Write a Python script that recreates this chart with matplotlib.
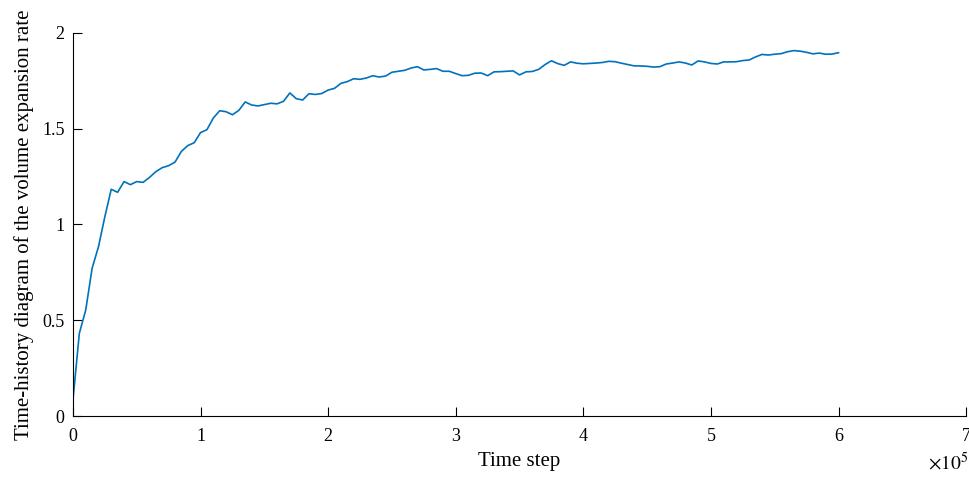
import numpy as np
import matplotlib
matplotlib.use('Agg')
import matplotlib.pyplot as plt
from matplotlib.ticker import FuncFormatter

# 体积膨胀率时程 (每 5000 步采样一次，读自原图)
step = 5000
rate = [
    0.085, 0.432, 0.553, 0.771, 0.884, 1.041, 1.184, 1.168, 1.224, 1.208,
    1.224, 1.220, 1.246, 1.276, 1.297, 1.307, 1.326, 1.382, 1.412, 1.427,
    1.480, 1.495, 1.556, 1.594, 1.589, 1.573, 1.596, 1.640, 1.624, 1.619,
    1.626, 1.633, 1.630, 1.643, 1.687, 1.657, 1.650, 1.683, 1.679, 1.684,
    1.702, 1.711, 1.737, 1.746, 1.761, 1.758, 1.765, 1.777, 1.770, 1.775,
    1.795, 1.800, 1.805, 1.817, 1.824, 1.807, 1.810, 1.814, 1.800, 1.800,
    1.788, 1.777, 1.779, 1.790, 1.791, 1.777, 1.797, 1.798, 1.800, 1.802,
    1.781, 1.797, 1.799, 1.810, 1.835, 1.855, 1.840, 1.831, 1.849, 1.842,
    1.839, 1.841, 1.843, 1.846, 1.852, 1.850, 1.842, 1.835, 1.828, 1.828,
    1.826, 1.822, 1.824, 1.838, 1.843, 1.849, 1.843, 1.833, 1.854, 1.849,
    1.841, 1.838, 1.849, 1.849, 1.850, 1.856, 1.859, 1.875, 1.888, 1.885,
    1.889, 1.892, 1.902, 1.908, 1.905, 1.899, 1.891, 1.895, 1.889, 1.890,
    1.897,
]
time_step = [i * step for i in range(len(rate))]

x_ticks = [0, 1e5, 2e5, 3e5, 4e5, 5e5, 6e5, 7e5]
y_ticks = [0, 0.5, 1, 1.5, 2]
y_tick_labels = ['0', '0.5', '1', '1.5', '2']

plt.rcParams['font.family'] = ['Liberation Serif', 'DejaVu Serif']
plt.rcParams['mathtext.fontset'] = 'stix'

fig = plt.figure(figsize=(9.69, 4.78), dpi=100)
ax = fig.add_axes([0.0753, 0.1297, 0.9217, 0.8013])

ax.plot(time_step, rate, color='#0072BD', linewidth=1.2)

ax.set_xlim(0, 7e5)
ax.set_ylim(0, 2)
ax.set_xticks(x_ticks)
ax.xaxis.set_major_formatter(FuncFormatter(lambda v, p: f'{v / 1e5:g}'))
ax.set_yticks(y_ticks)
ax.set_yticklabels(y_tick_labels)

ax.spines['top'].set_visible(False)
ax.spines['right'].set_visible(False)
for s in ('left', 'bottom'):
    ax.spines[s].set_linewidth(0.8)
ax.tick_params(direction='in', length=6.5, width=0.8, labelsize=13)
ax.tick_params(axis='x', pad=8.5)
ax.tick_params(axis='y', pad=6)

ax.set_xlabel('Time step', fontsize=15, labelpad=5)
ax.set_ylabel('Time-history diagram of the volume expansion rate', fontsize=15, labelpad=6)

fig.text(0.999, 0.008, r'$\times10^5$', ha='right', va='bottom', fontsize=14)

fig.savefig('out.png', dpi=100)
